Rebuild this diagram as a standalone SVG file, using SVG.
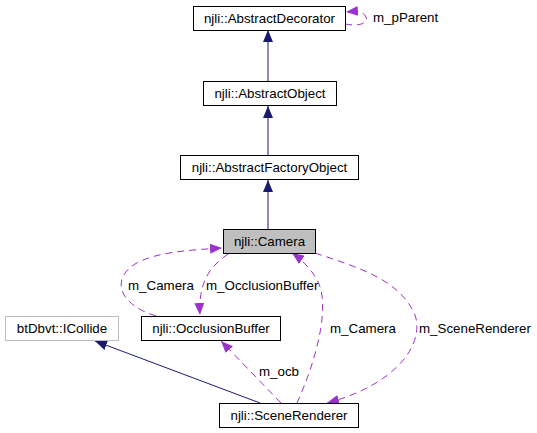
<svg xmlns="http://www.w3.org/2000/svg" width="537" height="433" viewBox="0 0 537 433">
<style>
text{font-family:"Liberation Sans",Arial,sans-serif;font-size:13.33px;fill:#000}
.n rect{fill:#fff;stroke:#000;stroke-width:1}
.n text{text-anchor:middle}
.inh{fill:none;stroke:#191970;stroke-width:1}
.use{fill:none;stroke:#9a32cd;stroke-width:1;stroke-dasharray:7,5}
</style>
<defs>
<marker id="ab" viewBox="0 0 12 10" refX="12" refY="5" markerWidth="12" markerHeight="10" markerUnits="userSpaceOnUse" orient="auto"><path d="M0,0 L12,5 L0,10 z" fill="#191970"/></marker>
<marker id="ap" viewBox="0 0 12 10" refX="12" refY="5" markerWidth="12" markerHeight="10" markerUnits="userSpaceOnUse" orient="auto"><path d="M0,0 L12,5 L0,10 z" fill="#9a32cd"/></marker>
</defs>
<rect width="537" height="433" fill="#fff"/>
<g id="connectors">
<path class="inh" d="M268,81 L268,30" marker-end="url(#ab)"/>
<path class="inh" d="M268,155 L268,106" marker-end="url(#ab)"/>
<path class="inh" d="M268,229 L268,180" marker-end="url(#ab)"/>
<path class="inh" d="M260,403 L95,341" marker-end="url(#ab)"/>
<path class="use" d="M345,24 C362,27 368,22 366,17 C364,12 358,11 346,12" marker-end="url(#ap)"/>
<path class="use" d="M156,316 C120,305 110,280 135,264 C155,252 190,250 222,248" marker-end="url(#ap)"/>
<path class="use" d="M228,254 C212,265 198,280 200,315" marker-end="url(#ap)"/>
<path class="use" d="M297,403 C312,370 328,320 321,290 C317,275 305,262 292,253" marker-end="url(#ap)"/>
<path class="use" d="M315,253 C360,268 400,280 415,315 C425,345 395,385 327,403" marker-end="url(#ap)"/>
<path class="use" d="M281,403 L221,341" marker-end="url(#ap)"/>
<text x="373" y="22">m_pParent</text>
<text x="128" y="290">m_Camera</text>
<text x="206" y="290">m_OcclusionBuffer</text>
<text x="330" y="333">m_Camera</text>
<text x="419" y="333">m_SceneRenderer</text>
<text x="259" y="376">m_ocb</text>
</g>
<g id="AbstractDecorator" class="n"><rect x="193.5" y="6.5" width="152" height="24"/><text x="269.5" y="23">njli::AbstractDecorator</text></g>
<g id="AbstractObject" class="n"><rect x="203.5" y="81.5" width="133" height="24"/><text x="270" y="98">njli::AbstractObject</text></g>
<g id="AbstractFactoryObject" class="n"><rect x="180.5" y="155.5" width="178" height="24"/><text x="269.5" y="172">njli::AbstractFactoryObject</text></g>
<g id="Camera" class="n"><rect x="223.5" y="229.5" width="92" height="24" style="fill:#bfbfbf"/><text x="269.5" y="246">njli::Camera</text></g>
<g id="OcclusionBuffer" class="n"><rect x="141.5" y="316.5" width="139" height="24"/><text x="211" y="333">njli::OcclusionBuffer</text></g>
<g id="ICollide" class="n"><rect x="5.5" y="316.5" width="113" height="24" style="stroke:#bfbfbf"/><text x="62" y="333">btDbvt::ICollide</text></g>
<g id="SceneRenderer" class="n"><rect x="219.5" y="403.5" width="139" height="24"/><text x="289" y="420">njli::SceneRenderer</text></g>
</svg>
